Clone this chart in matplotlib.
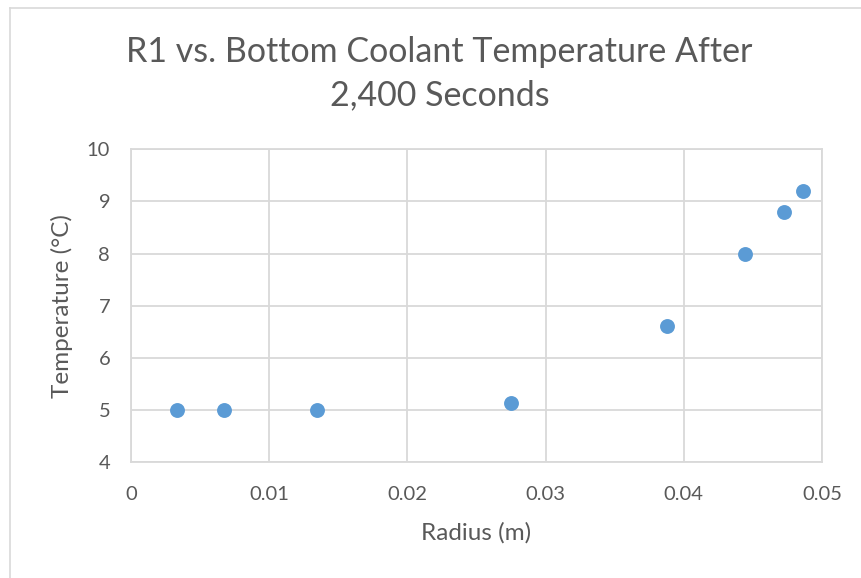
import matplotlib
matplotlib.use('Agg')
import matplotlib.pyplot as plt
from matplotlib.lines import Line2D

# data
radius = [0.00333, 0.00672, 0.01348, 0.02751, 0.03877, 0.04442, 0.04722, 0.04862]
temperature = [5.0, 5.0, 5.0, 5.13, 6.61, 8.0, 8.8, 9.21]
x_ticks = [0, 0.01, 0.02, 0.03, 0.04, 0.05]
x_tick_labels = ['0', '0.01', '0.02', '0.03', '0.04', '0.05']
y_ticks = [4, 5, 6, 7, 8, 9, 10]

plt.rcParams['font.family'] = ['Lato', 'DejaVu Sans']
text_color = '#595959'
grid_color = '#d9d9d9'

fig = plt.figure(figsize=(8.62, 5.78), dpi=100)
ax = fig.add_axes([0.152, 0.2, 0.8015, 0.5417])

ax.scatter(radius, temperature, s=115, color='#5b9bd5', zorder=3, linewidths=0)

ax.set_xlim(0, 0.05)
ax.set_ylim(4, 10)
ax.set_xticks(x_ticks)
ax.set_xticklabels(x_tick_labels)
ax.set_yticks(y_ticks)
ax.grid(True, color=grid_color, linewidth=1.3)
ax.set_axisbelow(True)
for s in ax.spines.values():
    s.set_color(grid_color)
    s.set_linewidth(1.3)
ax.tick_params(length=0, labelsize=14.5, colors=text_color)
ax.tick_params(axis='x', pad=17)
ax.tick_params(axis='y', pad=15)

ax.set_xlabel('Radius (m)', fontsize=17.5, color=text_color, labelpad=14)
ax.set_ylabel('Temperature (°C)', fontsize=17.5, color=text_color, labelpad=10)

fig.text(0.51, 0.873, 'R1 vs. Bottom Coolant Temperature After\n2,400 Seconds',
         ha='center', va='center', fontsize=24.5, color=text_color, linespacing=1.42)

# outer chart border (left and top visible)
fig.add_artist(Line2D([10 / 862, 10 / 862], [0, 1 - 8 / 578], transform=fig.transFigure,
                      color=grid_color, linewidth=1.2))
fig.add_artist(Line2D([10 / 862, 1], [1 - 8 / 578, 1 - 8 / 578], transform=fig.transFigure,
                      color=grid_color, linewidth=1.2))

fig.savefig('out.png', dpi=100)
